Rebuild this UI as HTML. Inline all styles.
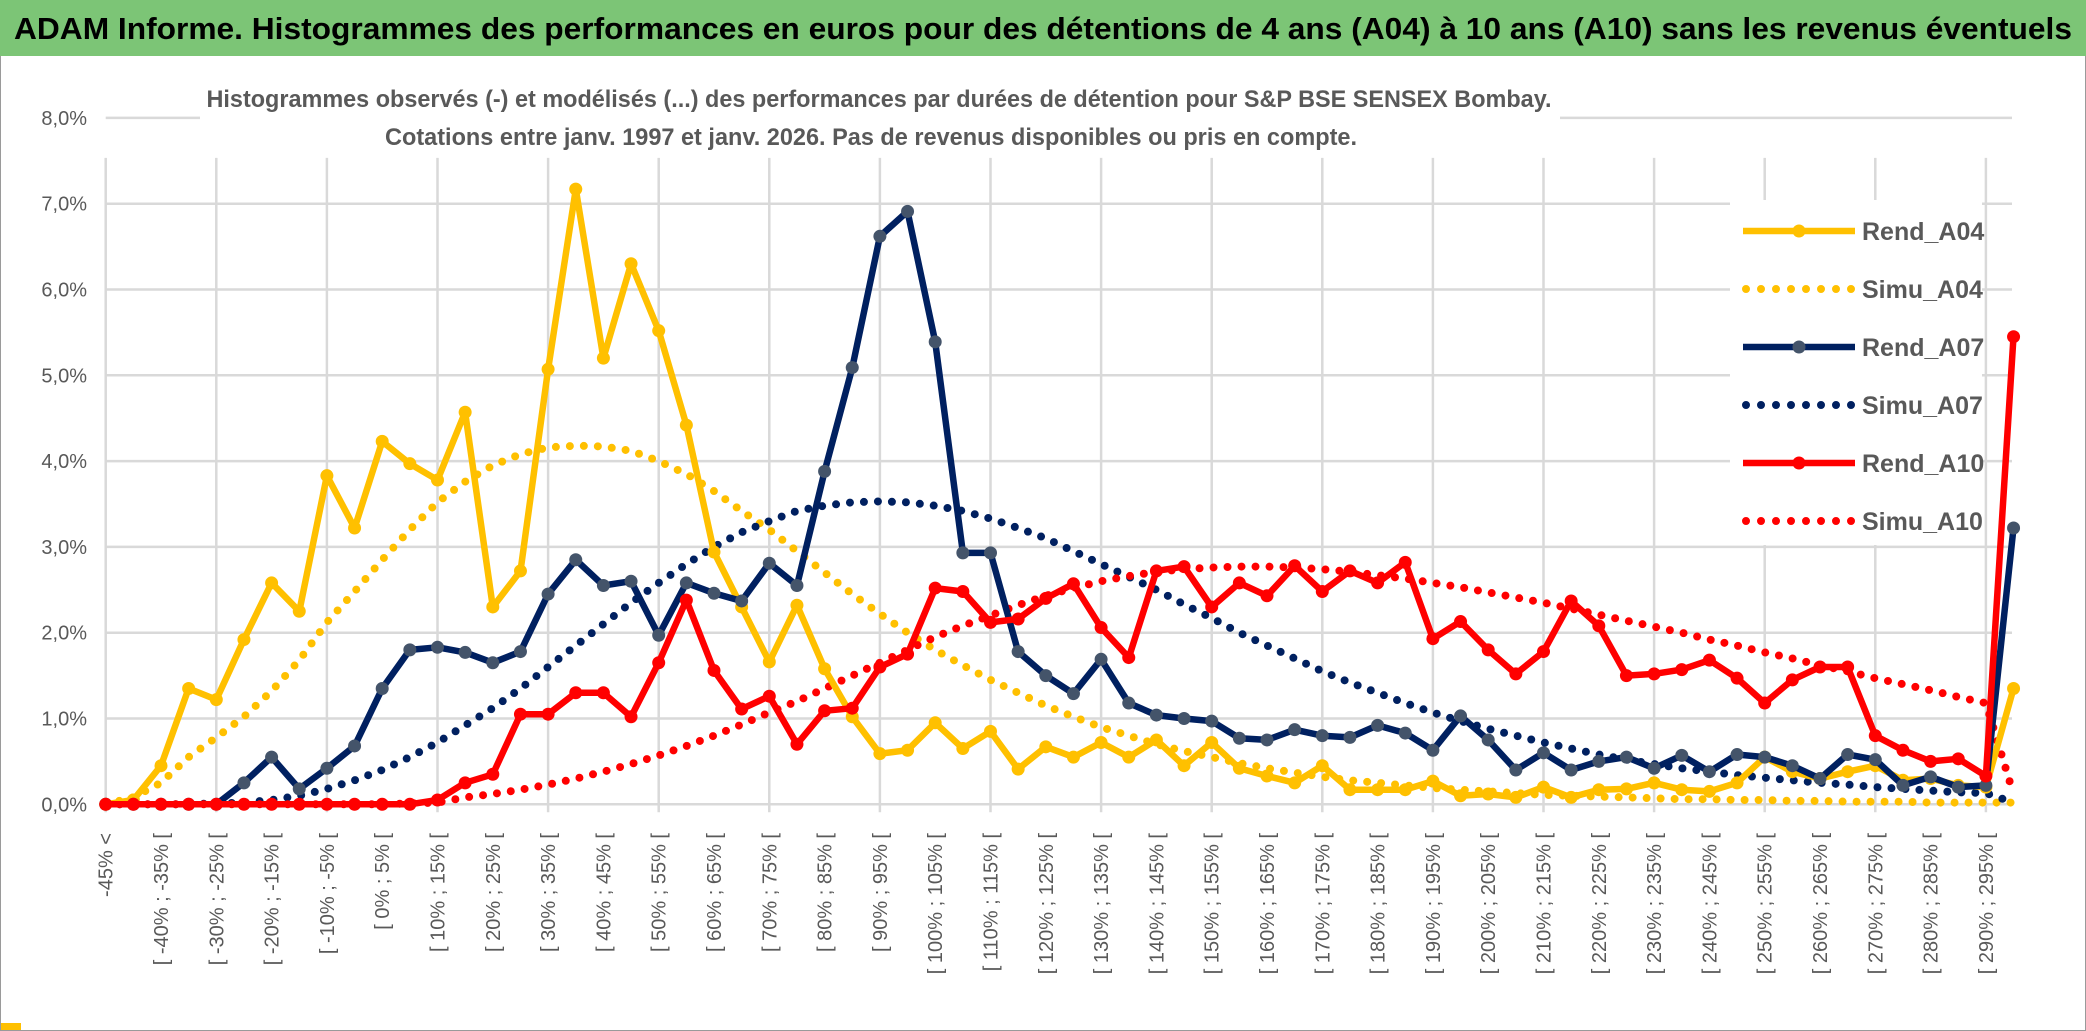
<!DOCTYPE html>
<html><head><meta charset="utf-8"><style>
html,body{margin:0;padding:0;background:#fff;}
svg{display:block;}
text{font-family:"Liberation Sans",sans-serif;}
</style></head><body>
<svg id="chart" width="2086" height="1031" viewBox="0 0 2086 1031" xmlns="http://www.w3.org/2000/svg">
<rect x="0" y="0" width="2086" height="1031" fill="#fff"/>
<rect x="0.5" y="0.5" width="2085" height="1030" fill="none" stroke="#9a9a9a" stroke-width="1"/>
<rect x="0" y="0" width="2086" height="56" fill="#7cc576"/>
<text x="14" y="39" font-size="31" font-weight="bold" fill="#000" textLength="2058" lengthAdjust="spacingAndGlyphs">ADAM Informe. Histogrammes des performances en euros pour des détentions de 4 ans (A04) à 10 ans (A10) sans les revenus éventuels</text>
<rect x="1" y="1023" width="20" height="7" fill="#ffc000"/>
<g id="grid"></g>
<g id="series"></g>
<g id="ylabels"></g>
<g id="xlabels"></g>
<rect x="200" y="78" width="1360" height="78" fill="#fff"/>
<text x="879" y="107" font-size="24" font-weight="bold" fill="#595959" text-anchor="middle" textLength="1345" lengthAdjust="spacingAndGlyphs">Histogrammes observés (-) et modélisés (...) des performances par durées de détention pour S&amp;P BSE SENSEX Bombay.</text>
<text x="871" y="145" font-size="24" font-weight="bold" fill="#595959" text-anchor="middle" textLength="972" lengthAdjust="spacingAndGlyphs">Cotations entre janv. 1997 et janv. 2026. Pas de revenus disponibles ou pris en compte.</text>
<rect x="1730" y="200" width="252" height="345" fill="#fff"/>
<g id="legend"></g>
</svg>
<script>
const categories = [];
const lowBounds = [];
for (let v = -45; v <= 295; v += 5) lowBounds.push(v);
const tickLabels = ["-45% <"];
const rendA04 = [0,0.05,0.45,1.35,1.22,1.92,2.58,2.25,3.83,3.22,4.23,3.97,3.78,4.57,2.30,2.72,5.07,7.17,5.20,6.30,5.52,4.42,2.94,2.30,1.66,2.32,1.58,1.02,0.59,0.63,0.95,0.65,0.85,0.41,0.67,0.55,0.72,0.55,0.75,0.45,0.72,0.42,0.33,0.25,0.45,0.17,0.17,0.17,0.27,0.10,0.12,0.08,0.20,0.08,0.17,0.18,0.25,0.17,0.15,0.25,0.55,0.38,0.30,0.38,0.45,0.28,0.30,0.22,0.20,1.35];
const simuA04 = [0,0.08,0.25,0.55,0.78,1.02,1.32,1.68,2.12,2.48,2.85,3.2,3.52,3.76,3.95,4.08,4.16,4.18,4.17,4.12,4.0,3.85,3.65,3.42,3.2,2.95,2.7,2.45,2.22,2.0,1.8,1.62,1.45,1.3,1.15,1.02,0.9,0.8,0.7,0.62,0.55,0.48,0.42,0.37,0.32,0.28,0.25,0.22,0.19,0.17,0.15,0.13,0.11,0.1,0.09,0.08,0.07,0.06,0.06,0.05,0.05,0.04,0.04,0.03,0.03,0.03,0.02,0.02,0.02,0.02];
const rendA07 = [0,0,0,0,0,0.25,0.55,0.18,0.42,0.68,1.35,1.80,1.83,1.77,1.65,1.78,2.45,2.85,2.55,2.60,1.97,2.58,2.46,2.37,2.81,2.55,3.88,5.09,6.62,6.91,5.39,2.93,2.93,1.78,1.50,1.29,1.69,1.18,1.04,1.00,0.97,0.77,0.75,0.87,0.80,0.78,0.92,0.83,0.63,1.03,0.75,0.40,0.60,0.40,0.50,0.55,0.42,0.57,0.38,0.58,0.55,0.45,0.30,0.58,0.52,0.22,0.32,0.20,0.22,3.22];
const simuA07 = [0,0,0,0,0.01,0.02,0.05,0.1,0.18,0.28,0.4,0.55,0.72,0.92,1.12,1.35,1.6,1.85,2.1,2.35,2.58,2.8,3.0,3.17,3.3,3.42,3.48,3.52,3.53,3.52,3.48,3.42,3.33,3.22,3.1,2.95,2.8,2.65,2.5,2.33,2.17,2.0,1.85,1.7,1.55,1.42,1.3,1.18,1.07,0.97,0.88,0.8,0.72,0.65,0.58,0.52,0.47,0.42,0.38,0.34,0.31,0.28,0.25,0.23,0.2,0.18,0.16,0.14,0.13,0.02];
const rendA10 = [0,0,0,0,0,0,0,0,0,0,0,0,0.05,0.25,0.35,1.05,1.05,1.30,1.30,1.02,1.65,2.38,1.56,1.11,1.26,0.70,1.09,1.12,1.60,1.75,2.52,2.48,2.12,2.16,2.40,2.57,2.06,1.71,2.72,2.77,2.30,2.58,2.43,2.78,2.48,2.72,2.58,2.82,1.93,2.13,1.80,1.52,1.78,2.37,2.08,1.50,1.52,1.57,1.68,1.47,1.18,1.45,1.60,1.60,0.80,0.63,0.50,0.53,0.33,5.45];
const simuA10 = [0,0,0,0,0,0,0,0,0,0,0,0.01,0.02,0.08,0.12,0.17,0.23,0.3,0.38,0.47,0.57,0.68,0.8,0.93,1.07,1.2,1.35,1.5,1.65,1.8,1.95,2.08,2.2,2.32,2.43,2.52,2.6,2.66,2.71,2.74,2.76,2.77,2.77,2.76,2.74,2.71,2.67,2.63,2.58,2.53,2.47,2.41,2.35,2.28,2.21,2.14,2.07,2.0,1.92,1.85,1.77,1.7,1.62,1.55,1.47,1.4,1.33,1.25,1.18,0.12];
const yTicks = [0,1,2,3,4,5,6,7,8];

const NS = "http://www.w3.org/2000/svg";
const X0 = 105.7, DX = 27.65, Y0 = 804.3, DY = 85.8;
function xPos(i){ return X0 + i*DX; }
function yPos(v){ return Y0 - v*DY; }
function mk(tag, attrs, parent){ const e=document.createElementNS(NS,tag); for(const k in attrs) e.setAttribute(k,attrs[k]); parent.appendChild(e); return e; }

for (let i=0;i<lowBounds.length;i++){
  if (i>0) tickLabels.push("[ " + lowBounds[i-1] + "% ; " + lowBounds[i] + "% [");
}
tickLabels.push("295% <=");
for (let i=0;i<70;i++) categories.push(tickLabels[i]);

const grid = document.getElementById('grid');
yTicks.forEach(t=>{
  const l = mk('line',{x1:X0,x2:2012,y1:yPos(t),y2:yPos(t),stroke:'#d9d9d9','stroke-width':2.5},grid);
  
  
});
for (let i=0;i<categories.length;i+=4){
  const l = mk('line',{x1:xPos(i),x2:xPos(i),y1:yPos(8)+40,y2:Y0+8,stroke:'#d9d9d9','stroke-width':2.5},grid);
  
  
}

const yl = document.getElementById('ylabels');
yTicks.forEach(t=>{
  const tx = mk('text',{x:87,y:yPos(t)+7,'font-size':20,fill:'#595959','text-anchor':'end'},yl);
  tx.textContent = t.toFixed(1).replace('.',',') + '%';
  
  
});

const xl = document.getElementById('xlabels');
for (let i=0;i<categories.length;i+=2){
  const x = xPos(i)+7, y = 833;
  const tx = mk('text',{x:x,y:y,'font-size':20,fill:'#595959','text-anchor':'end',transform:'rotate(-90 '+x+' '+y+')'},xl);
  tx.textContent = categories[i];
  
  
}

const sg = document.getElementById('series');
function pts(arr){ return arr.map((v,i)=>xPos(i).toFixed(1)+','+yPos(v).toFixed(1)).join(' '); }
function dotted(arr,color,name){
  const p = mk('polyline',{points:pts(arr),fill:'none',stroke:color,'stroke-width':8,'stroke-linecap':'round','stroke-dasharray':'0 14'},sg);
  
  
}
function solid(arr,color,mcolor,name){
  const p = mk('polyline',{points:pts(arr),fill:'none',stroke:color,'stroke-width':6.5,'stroke-linejoin':'round'},sg);
  
  
  arr.forEach((v,i)=>{
    const c = mk('circle',{cx:xPos(i),cy:yPos(v),r:6.5,fill:mcolor},sg);
    
    
  });
}
dotted(simuA04,'#ffc000','simu-a04-line');
dotted(simuA07,'#002060','simu-a07-line');
dotted(simuA10,'#ff0000','simu-a10-line');
solid(rendA04,'#ffc000','#ffc000','rend-a04-line');
solid(rendA07,'#002060','#44546a','rend-a07-line');
solid(rendA10,'#ff0000','#ff0000','rend-a10-line');

const lg = document.getElementById('legend');
const legendItems = [
  ['Rend_A04','#ffc000','#ffc000',false],
  ['Simu_A04','#ffc000',null,true],
  ['Rend_A07','#002060','#44546a',false],
  ['Simu_A07','#002060',null,true],
  ['Rend_A10','#ff0000','#ff0000',false],
  ['Simu_A10','#ff0000',null,true]
];
legendItems.forEach((it,k)=>{
  const y = 231 + k*58;
  const g = mk('g',{},lg);
  
  
  if (it[3]) {
    mk('line',{x1:1746,x2:1852,y1:y,y2:y,stroke:it[1],'stroke-width':8,'stroke-linecap':'round','stroke-dasharray':'0 15'},g);
  } else {
    mk('line',{x1:1743,x2:1855,y1:y,y2:y,stroke:it[1],'stroke-width':6.5},g);
    mk('circle',{cx:1799,cy:y,r:6.5,fill:it[2]},g);
  }
  const t = mk('text',{x:1862,y:y+9,'font-size':25,'font-weight':'bold',fill:'#595959'},g);
  t.textContent = it[0];
});
</script>
</body></html>
